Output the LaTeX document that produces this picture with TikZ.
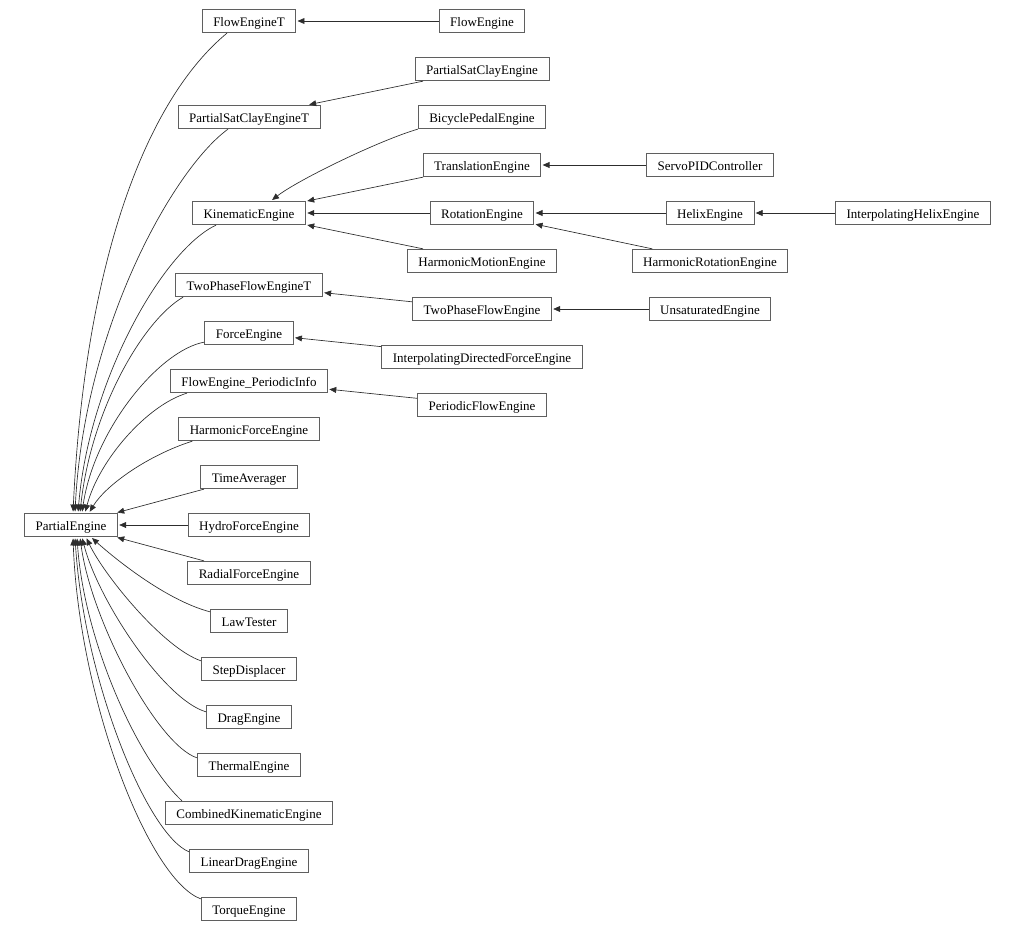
\documentclass[tikz,border=0pt]{standalone}
\usepackage{fontspec}
\setmainfont{Liberation Serif}
\usetikzlibrary{calc,arrows.meta}
\definecolor{boxGray}{RGB}{95,95,95}
\definecolor{edgeGray}{RGB}{45,45,45}

\begin{document}
\begin{tikzpicture}[x=0.75pt,y=-0.75pt,
  cls/.style={draw=boxGray,line width=0.6pt,fill=white,minimum height=17.6pt,inner xsep=8.3pt,inner ysep=0pt,text height=8pt,text depth=0.2pt,font=\fontsize{9.75}{11}\selectfont},
  base/.style={draw=edgeGray,line width=0.5pt,-{Triangle[length=5.2pt,width=4.4pt]},shorten >=1pt}]
\useasboundingbox (0,0) rectangle (1016,932);
\node[cls] (PartialEngine) at (71,525) {PartialEngine};
\node[cls] (FlowEngineT) at (249,21) {FlowEngineT};
\node[cls] (PartialSatClayEngineT) at (249,117) {PartialSatClayEngineT};
\node[cls] (KinematicEngine) at (249,213) {KinematicEngine};
\node[cls] (TwoPhaseFlowEngineT) at (249,285) {TwoPhaseFlowEngineT};
\node[cls] (ForceEngine) at (249,333) {ForceEngine};
\node[cls] (FlowEnginePeriodicInfo) at (249,381) {FlowEngine\_PeriodicInfo};
\node[cls] (HarmonicForceEngine) at (249,429) {HarmonicForceEngine};
\node[cls] (TimeAverager) at (249,477) {TimeAverager};
\node[cls] (HydroForceEngine) at (249,525) {HydroForceEngine};
\node[cls] (RadialForceEngine) at (249,573) {RadialForceEngine};
\node[cls] (LawTester) at (249,621) {LawTester};
\node[cls] (StepDisplacer) at (249,669) {StepDisplacer};
\node[cls] (DragEngine) at (249,717) {DragEngine};
\node[cls] (ThermalEngine) at (249,765) {ThermalEngine};
\node[cls] (CombinedKinematicEngine) at (249,813) {CombinedKinematicEngine};
\node[cls] (LinearDragEngine) at (249,861) {LinearDragEngine};
\node[cls] (TorqueEngine) at (249,909) {TorqueEngine};
\node[cls] (FlowEngine) at (482,21) {FlowEngine};
\node[cls] (PartialSatClayEngine) at (482,69) {PartialSatClayEngine};
\node[cls] (BicyclePedalEngine) at (482,117) {BicyclePedalEngine};
\node[cls] (TranslationEngine) at (482,165) {TranslationEngine};
\node[cls] (RotationEngine) at (482,213) {RotationEngine};
\node[cls] (HarmonicMotionEngine) at (482,261) {HarmonicMotionEngine};
\node[cls] (TwoPhaseFlowEngine) at (482,309) {TwoPhaseFlowEngine};
\node[cls] (InterpolatingDirectedForceEngine) at (482,357) {InterpolatingDirectedForceEngine};
\node[cls] (PeriodicFlowEngine) at (482,405) {PeriodicFlowEngine};
\node[cls] (ServoPIDController) at (710,165) {ServoPIDController};
\node[cls] (HelixEngine) at (710,213) {HelixEngine};
\node[cls] (HarmonicRotationEngine) at (710,261) {HarmonicRotationEngine};
\node[cls] (UnsaturatedEngine) at (710,309) {UnsaturatedEngine};
\node[cls] (InterpolatingHelixEngine) at (913,213) {InterpolatingHelixEngine};

\draw[base] ($(FlowEngineT.south)+(-22,0)$) .. controls +(-80,66) and +(12,-254) .. ($(PartialEngine.north)+(2,0)$);
\draw[base] ($(PartialSatClayEngineT.south)+(-21,0)$) .. controls +(-55,40) and +(9,-184) .. ($(PartialEngine.north)+(4,0)$);
\draw[base] ($(KinematicEngine.south)+(-33,0)$) .. controls +(-53,25) and +(11,-133) .. ($(PartialEngine.north)+(7,0)$);
\draw[base] ($(TwoPhaseFlowEngineT.south west)+(8,0)$) .. controls +(-40,23) and +(11,-103) .. ($(PartialEngine.north)+(9,0)$);
\draw[base] ($(ForceEngine.south west)+(0,-3)$) .. controls +(-45,8) and +(12,-83) .. ($(PartialEngine.north)+(11,0)$);
\draw[base] ($(FlowEnginePeriodicInfo.south west)+(17,0)$) .. controls +(-40,12) and +(14,-53) .. ($(PartialEngine.north)+(14,0)$);
\draw[base] ($(HarmonicForceEngine.south west)+(14,0)$) .. controls +(-44,14) and +(17,-28) .. ($(PartialEngine.north)+(18,0)$);
\draw[base] (TimeAverager) -- (PartialEngine);
\draw[base] (HydroForceEngine) -- (PartialEngine);
\draw[base] (RadialForceEngine) -- (PartialEngine);
\draw[base] ($(LawTester.north west)+(0,3)$) .. controls +(-46,-12) and +(20,18) .. ($(PartialEngine.south)+(20,0)$);
\draw[base] ($(StepDisplacer.north west)+(0,4)$) .. controls +(-38,-13) and +(18,38) .. ($(PartialEngine.south)+(15,0)$);
\draw[base] ($(DragEngine.north west)+(0,7)$) .. controls +(-42,-12) and +(16,63) .. ($(PartialEngine.south)+(11,0)$);
\draw[base] ($(ThermalEngine.north west)+(0,5)$) .. controls +(-40,-13) and +(11,83) .. ($(PartialEngine.south)+(9,0)$);
\draw[base] ($(CombinedKinematicEngine.north west)+(17,0)$) .. controls +(-45,-42) and +(7,103) .. ($(PartialEngine.south)+(6,0)$);
\draw[base] ($(LinearDragEngine.north west)+(0,3)$) .. controls +(-42,-17) and +(9,143) .. ($(PartialEngine.south)+(4,0)$);
\draw[base] ($(TorqueEngine.north west)+(0,2)$) .. controls +(-52,-19) and +(6,163) .. ($(PartialEngine.south)+(2,0)$);

\draw[base] (FlowEngine) -- (FlowEngineT);
\draw[base] (PartialSatClayEngine) -- (PartialSatClayEngineT);
\draw[base] (BicyclePedalEngine.south west) .. controls +(-38,11) and +(27,-21) .. ($(KinematicEngine.north)+(22,0)$);
\draw[base] (TranslationEngine) -- (KinematicEngine);
\draw[base] (RotationEngine) -- (KinematicEngine);
\draw[base] (HarmonicMotionEngine) -- (KinematicEngine);
\draw[base] (ServoPIDController) -- (TranslationEngine);
\draw[base] (HelixEngine) -- (RotationEngine);
\draw[base] (InterpolatingHelixEngine) -- (HelixEngine);
\draw[base] (HarmonicRotationEngine) -- (RotationEngine);
\draw[base] (TwoPhaseFlowEngine) -- (TwoPhaseFlowEngineT);
\draw[base] (UnsaturatedEngine) -- (TwoPhaseFlowEngine);
\draw[base] (InterpolatingDirectedForceEngine) -- (ForceEngine);
\draw[base] (PeriodicFlowEngine) -- (FlowEnginePeriodicInfo);
\end{tikzpicture}
\end{document}
